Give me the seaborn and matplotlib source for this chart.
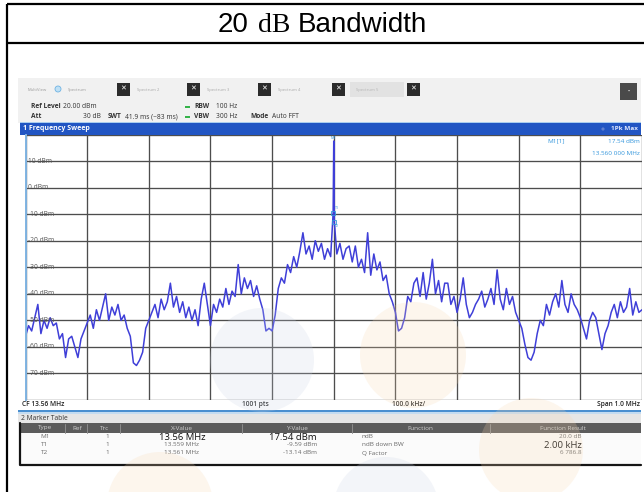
import matplotlib

matplotlib.use("agg")
import matplotlib.pyplot as plt
import numpy as np
import pandas as pd
import seaborn as sns
from matplotlib.patches import Circle, Rectangle

# Sweep settings
center_mhz = 13.56
span_mhz = 1.0

# Trace level (dBm), one value every 5 kHz across the span
trace_dbm = [
    -56, -52, -54, -49, -44, -55, -50, -53, -49, -52,
    -51, -57, -55, -64, -57, -56, -60, -64, -57, -54,
    -51, -48, -53, -46, -50, -45, -40, -50, -45, -48,
    -44, -50, -48, -53, -56, -66, -67, -65, -62, -53,
    -50, -47, -44, -49, -42, -46, -43, -36, -45, -41,
    -47, -43, -49, -45, -50, -46, -52, -42, -36, -44,
    -52, -44, -47, -42, -45, -38, -44, -39, -41, -29,
    -40, -34, -38, -35, -41, -37, -42, -46, -54, -53,
    -54, -48, -38, -34, -36, -29, -32, -26, -30, -24,
    -17, -25, -22, -27, -20, -24, -21, -27, -23, -26,
    17.54,
    -25, -21, -27, -23, -22, -28, -22, -30, -27, -32,
    -17, -33, -25, -31, -28, -35, -33, -40, -43, -47,
    -54, -53, -49, -41, -43, -36, -34, -41, -32, -42,
    -36, -27, -40, -35, -43, -36, -36, -44, -41, -47,
    -42, -34, -44, -49, -47, -44, -42, -39, -45, -42,
    -38, -44, -31, -42, -46, -38, -44, -41, -47, -50,
    -53, -59, -64, -65, -62, -55, -50, -52, -44, -48,
    -43, -40, -45, -35, -44, -47, -40, -44, -46, -49,
    -53, -57, -50, -47, -49, -55, -61, -55, -52, -47,
    -44, -49, -43, -47, -45, -38, -48, -43, -47, -46,
]

# Markers (name, MHz, dBm)
marker_names = ["M1", "T1", "T2"]
marker_mhz = [13.56, 13.559, 13.561]
marker_dbm = [17.54, -9.59, -13.14]

ref_levels = [10, 0, -10, -20, -30, -40, -50, -60, -70]

# Marker table contents
table_columns = ["Type", "Ref", "Trc", "X-Value", "Y-Value", "Function", "Function Result"]
table_type = ["M1", "T1", "T2"]
table_trc = ["1", "1", "1"]
table_x = ["13.56 MHz", "13.559 MHz", "13.561 MHz"]
table_y = ["17.54 dBm", "-9.59 dBm", "-13.14 dBm"]
table_func = ["ndB", "ndB down BW", "Q Factor"]
table_result = ["20.0 dB", "2.00 kHz", "6 786.8"]

sns.set_theme(style="white")
plt.rcParams["font.family"] = ["Open Sans", "DejaVu Sans"]

W, H = 644, 492
fig = plt.figure(figsize=(W / 100, H / 100), dpi=100)
fig.patch.set_facecolor("white")

# background axes in pixel coordinates for the document table and the screenshot chrome
bg = fig.add_axes([0, 0, 1, 1])
bg.set_xlim(0, W)
bg.set_ylim(H, 0)
bg.axis("off")


def box(x0, y0, x1, y1, **kw):
    bg.add_patch(Rectangle((x0, y0), x1 - x0, y1 - y0, lw=0, **kw))


# document cell borders and title
for xs, ys in [([7, 7], [4, H]), ([7, W], [4, 4]), ([7, W], [43, 43])]:
    bg.plot(xs, ys, color="black", lw=1.6, solid_capstyle="butt")
bg.text(218, 25, "20", fontsize=20, family="Liberation Sans", va="center", color="black")
bg.text(258, 25, "dB", fontsize=20, family="Liberation Serif", va="center", color="black")
bg.text(298, 25, "Bandwidth", fontsize=20, family="Liberation Sans", va="center", color="black")

# instrument screenshot chrome
box(18, 78, 641, 123, fc="#f1f1f1")
tab_labels = ["Spectrum 2", "Spectrum 3", "Spectrum 4"]
bg.text(28, 90, "MultiView", fontsize=3, color="#9a9a9a", va="center")
bg.add_patch(Circle((58, 89), 3, fc="#bfe0f5", ec="#6fb3e3", lw=0.6))
bg.text(68, 90, "Spectrum", fontsize=3, color="#9a9a9a", va="center")
for xb, lab in zip([117, 187, 258], tab_labels):
    box(xb, 83, xb + 13, 96, fc="#2b2b2b")
    bg.text(xb + 6.5, 89.5, "\u2715", color="white", fontsize=5, ha="center", va="center", fontweight="bold")
    bg.text(xb + 20, 90, lab, fontsize=3, color="#a8a8a8", va="center")
box(332, 83, 345, 96, fc="#2b2b2b")
bg.text(338.5, 89.5, "\u2715", color="white", fontsize=5, ha="center", va="center", fontweight="bold")
box(350, 82, 404, 97, fc="#e2e2e2")
bg.text(356, 90, "Spectrum 5", fontsize=3, color="#b5b5b5", va="center")
box(407, 83, 420, 96, fc="#2b2b2b")
bg.text(413.5, 89.5, "\u2715", color="white", fontsize=5, ha="center", va="center", fontweight="bold")
box(620, 83, 637, 100, fc="#4a4a4a")
bg.text(628.5, 91, "\u2022", color="white", fontsize=4, ha="center", va="center")

hdr = dict(fontsize=4.8, color="#333333", va="center")
bg.text(31, 107, "Ref Level", fontweight="bold", **hdr)
bg.text(63, 107, "20.00 dBm", **hdr)
bg.text(31, 117, "Att", fontweight="bold", **hdr)
bg.text(101, 117, "30 dB", ha="right", **hdr)
bg.text(108, 117, "SWT", fontweight="bold", **hdr)
bg.text(125, 117, "41.9 ms (~83 ms)", **hdr)
for yy, name, val in [(107, "RBW", "100 Hz"), (117, "VBW", "300 Hz")]:
    bg.add_patch(Rectangle((185, yy - 1), 5, 2, fc="#35b34a", lw=0))
    bg.text(194, yy, name, fontweight="bold", **hdr)
    bg.text(216, yy, val, **hdr)
bg.text(250, 117, "Mode", fontweight="bold", **hdr)
bg.text(272, 117, "Auto FFT", **hdr)

box(20, 121.5, 641, 123, fc="#a9cdee")
box(20, 123, 641, 134.5, fc="#2155c3")
bg.text(23, 128.8, "1 Frequency Sweep", color="white", fontsize=5, fontweight="bold", va="center")
bg.add_patch(Circle((603, 129), 1.6, fc="#5e7fcf", lw=0))
bg.text(638, 128.8, "1Pk Max", color="#dfe8ff", fontsize=4.6, fontweight="bold", va="center", ha="right")

# footer of the diagram and marker table
box(20, 400, 641, 410, fc="white")
foot = dict(fontsize=4.8, color="#222222", va="center", fontweight="semibold")
bg.text(22, 405, "CF 13.56 MHz", **foot)
bg.text(242, 405, "1001 pts", **foot)
bg.text(392, 405, "100.0 kHz/", **foot)
bg.text(640, 405, "Span 1.0 MHz", ha="right", **foot)
box(18, 410, 641, 412, fc="#4a8fd0")
box(18, 412, 641, 413.5, fc="#c4dcf1")
box(18, 413.5, 641, 423, fc="#e6e6e6")
bg.text(21, 418.5, "2 Marker Table", fontsize=4.8, color="#333333", va="center")
box(20, 423, 641, 433, fc="#5c5c5c")
box(20, 433, 641, 465, fc="#fbfbfb")
bg.plot([20, 20, 641], [423, 465, 465], color="#151515", lw=1.6)
for xs in [65, 87, 120, 242, 352, 490]:
    bg.plot([xs, xs], [423.5, 432.5], color="#8c8c8c", lw=0.7)

col_centers = [45, 77, 105, 182, 297, 420, 563]
for cx, name in zip(col_centers, table_columns):
    bg.text(cx, 428, name, fontsize=4.6, color="#d0d0d0", ha="center", va="center")

row_y = [437, 445, 453]
small = dict(fontsize=4.6, color="#6a6a6a", va="center")
big = dict(fontsize=6.8, color="#111111", va="center")
for i, yy in enumerate(row_y):
    bg.text(45, yy, table_type[i], ha="center", **small)
    bg.text(107, yy, table_trc[i], ha="center", **small)
    bg.text(182, yy, table_x[i], ha="center", **(big if i == 0 else small))
    bg.text(317, yy, table_y[i], ha="right", **(big if i == 0 else small))
    bg.text(362, yy, table_func[i], ha="left", **small)
    bg.text(582, yy, table_result[i], ha="right", **(big if i == 1 else small))

# spectrum diagram
left, right, top, bottom = 25.5, 642.0, 134.5, 400.0
ax = fig.add_axes([left / W, (H - bottom) / H, (right - left) / W, (bottom - top) / H])
ax.set_facecolor("white")

freq = np.linspace(center_mhz - span_mhz / 2, center_mhz + span_mhz / 2, len(trace_dbm))
df = pd.DataFrame({"freq": np.concatenate([freq, marker_mhz[1:]]),
                   "level": np.concatenate([trace_dbm, marker_dbm[1:]])})
sns.lineplot(data=df, x="freq", y="level", ax=ax, estimator=None, sort=True,
             color="#3f3fd8", lw=1.1)

ax.set_xlim(center_mhz - span_mhz / 2, center_mhz + span_mhz / 2)
ax.set_ylim(-80, 20)
ax.set_xticks(np.linspace(center_mhz - span_mhz / 2, center_mhz + span_mhz / 2, 11))
ax.set_yticks(np.arange(-80, 21, 10))
ax.grid(True, color="#4d4d4d", lw=0.95)
ax.tick_params(length=0, labelbottom=False, labelleft=False)
ax.set_xlabel("")
ax.set_ylabel("")
for side in ["top", "right", "bottom"]:
    ax.spines[side].set_visible(False)
ax.spines["left"].set_color("#7fb3e2")
ax.spines["left"].set_linewidth(1.4)

for lvl in ref_levels:
    ax.text(13.0635, lvl, f"{lvl} dBm", fontsize=4.8, color="#555555", va="center", ha="left")

mk = "#3496dc"
ax.text(marker_mhz[0], 18.6, "M1", fontsize=2.8, color=mk, ha="center", va="center")
ax.plot(marker_mhz[1:], marker_dbm[1:], ls="none", marker="s", ms=2.2, mfc="none", mec=mk, mew=0.6)
ax.text(marker_mhz[0] + 0.0015, marker_dbm[1] + 2, "T1", fontsize=2.6, color=mk, va="center")
ax.text(marker_mhz[0] + 0.0015, marker_dbm[2] - 1.5, "T2", fontsize=2.6, color=mk, va="center")
ax.text(13.92, 17.5, "M1[1]", fontsize=4.6, color=mk, va="center", ha="center", transform=ax.transData)
ax.text(0.997, 0.975, "17.54 dBm", fontsize=4.6, color=mk, va="center", ha="right", transform=ax.transAxes)
ax.text(0.997, 0.93, "13.560 000 MHz", fontsize=4.6, color=mk, va="center", ha="right", transform=ax.transAxes)

# faint watermark circles laid over the screenshot
ov = fig.add_axes([0, 0, 1, 1], zorder=5)
ov.set_xlim(0, W)
ov.set_ylim(H, 0)
ov.axis("off")
for (cx, cy, r, c) in [(262, 360, 52, "#c9d4e6"), (413, 355, 53, "#f7d7b0"),
                       (531, 450, 52, "#f7d7b0"), (386, 510, 53, "#c9d4e6"),
                       (160, 505, 53, "#f7d7b0")]:
    ov.add_patch(Circle((cx, cy), r, fc=c, ec="none", alpha=0.22))

fig.savefig("out.png", dpi=100)
